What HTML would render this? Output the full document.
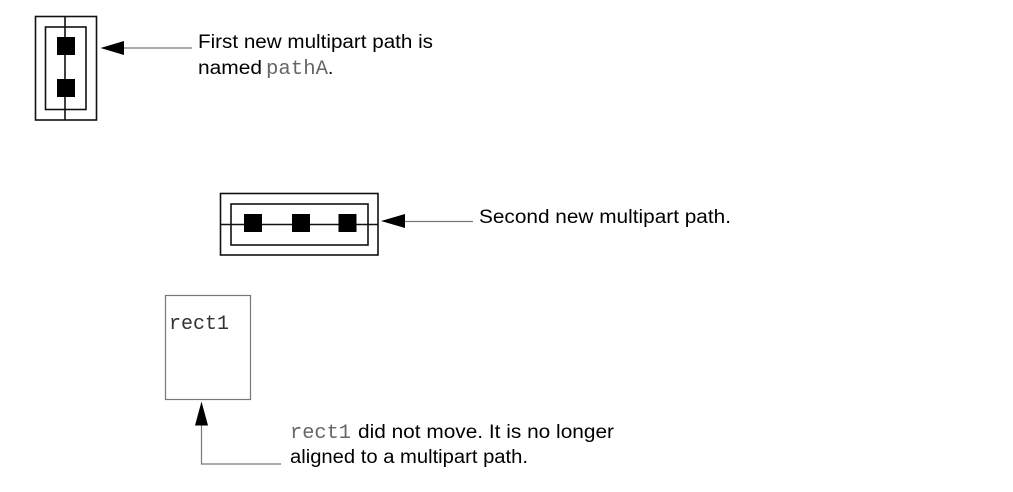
<!DOCTYPE html>
<html>
<head>
<meta charset="utf-8">
<style>
html,body{margin:0;padding:0;background:#fff;}
svg{display:block;}
.s{font-family:"Liberation Sans",sans-serif;font-size:19px;fill:#000;}
.m{font-family:"Liberation Mono",monospace;font-size:20px;fill:#666;}
</style>
</head>
<body>
<svg width="1013" height="492" viewBox="0 0 1013 492" xmlns="http://www.w3.org/2000/svg">
<rect width="1013" height="492" fill="#fff"/>
<!-- top multipart -->
<g fill="none" stroke="#111" stroke-width="1.6">
<rect x="35.5" y="16.5" width="61" height="103.5"/>
<rect x="45.5" y="27" width="40.5" height="82.5"/>
<line x1="65" y1="16.5" x2="65" y2="120"/>
</g>
<rect x="57" y="37" width="18" height="18" fill="#000"/>
<rect x="57" y="79" width="18" height="18" fill="#000"/>
<polygon points="100.5,48 124,41 124,55" fill="#000"/>
<line x1="124" y1="48" x2="192" y2="48" stroke="#777" stroke-width="1.2"/>
<text class="s" x="198" y="48" textLength="235" lengthAdjust="spacingAndGlyphs">First new multipart path is</text>
<text class="s" x="198" y="74" textLength="64" lengthAdjust="spacingAndGlyphs">named</text>
<text class="m" x="266" y="74" textLength="62" lengthAdjust="spacingAndGlyphs">pathA</text>
<text class="s" x="328" y="74">.</text>
<!-- second multipart -->
<g fill="none" stroke="#111" stroke-width="1.6">
<rect x="220.5" y="193.5" width="157.5" height="61.5"/>
<rect x="231" y="204" width="137" height="41"/>
<line x1="220.5" y1="224.5" x2="378" y2="224.5"/>
</g>
<rect x="244" y="214" width="18" height="18" fill="#000"/>
<rect x="292" y="214" width="18" height="18" fill="#000"/>
<rect x="338.5" y="214" width="18" height="18" fill="#000"/>
<polygon points="381,221 405,214 405,228" fill="#000"/>
<line x1="405" y1="221.5" x2="473" y2="221.5" stroke="#777" stroke-width="1.2"/>
<text class="s" x="479" y="223" textLength="252" lengthAdjust="spacingAndGlyphs">Second new multipart path.</text>
<!-- rect1 -->
<rect x="165.5" y="295.5" width="85" height="104" fill="none" stroke="#777" stroke-width="1.2"/>
<text class="m" x="169" y="329" textLength="60" lengthAdjust="spacingAndGlyphs" style="fill:#333">rect1</text>
<polygon points="201.5,401.5 195,425.5 208,425.5" fill="#000"/>
<polyline points="201.5,425.5 201.5,464 281,464" fill="none" stroke="#777" stroke-width="1.2"/>
<text class="m" x="290" y="438" textLength="61" lengthAdjust="spacingAndGlyphs">rect1</text>
<text class="s" x="358" y="438" textLength="256" lengthAdjust="spacingAndGlyphs">did not move. It is no longer</text>
<text class="s" x="290" y="463" textLength="238" lengthAdjust="spacingAndGlyphs">aligned to a multipart path.</text>
</svg>
</body>
</html>
